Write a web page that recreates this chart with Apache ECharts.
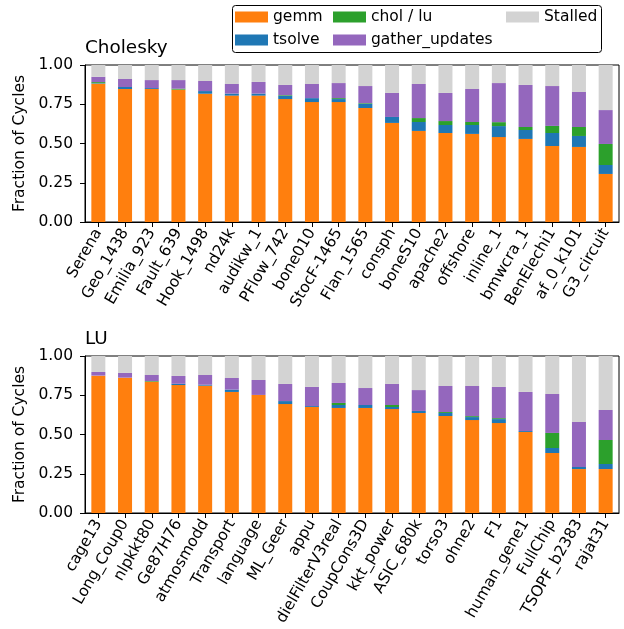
<!DOCTYPE html>
<html>
<head>
<meta charset="utf-8">
<script src="https://cdn.jsdelivr.net/npm/echarts@6/dist/echarts.min.js"></script>
<style>html,body{margin:0;padding:0;background:#fff;}#c{width:624px;height:629px;}</style>
</head>
<body>
<div id="c"></div>
<script>
const cholCategories = ['Serena','Geo_1438','Emilia_923','Fault_639','Hook_1498','nd24k','audikw_1','PFlow_742','bone010','StocF-1465','Flan_1565','consph','boneS10','apache2','offshore','inline_1','bmwcra_1','BenElechi1','af_0_k101','G3_circuit'];
const cholGemm    = [0.881,0.847,0.847,0.843,0.817,0.805,0.805,0.783,0.764,0.764,0.726,0.631,0.580,0.567,0.561,0.541,0.529,0.484,0.478,0.306];
const cholTsolve  = [0.003,0.013,0.006,0.000,0.017,0.013,0.013,0.021,0.025,0.019,0.027,0.038,0.057,0.051,0.057,0.070,0.057,0.083,0.070,0.057];
const cholCholLu  = [0.007,0.000,0.000,0.006,0.000,0.000,0.000,0.004,0.000,0.006,0.004,0.000,0.025,0.025,0.019,0.025,0.019,0.045,0.057,0.134];
const cholGather  = [0.034,0.051,0.051,0.055,0.064,0.061,0.074,0.065,0.090,0.096,0.109,0.153,0.217,0.179,0.210,0.249,0.268,0.254,0.223,0.216];
const cholStalled = [0.075,0.089,0.096,0.096,0.102,0.121,0.108,0.127,0.121,0.115,0.134,0.178,0.121,0.178,0.153,0.115,0.127,0.134,0.172,0.287];

const luCategories = ['cage13','Long_Coup0','nlpkkt80','Ge87H76','atmosmodd','Transport','language','ML_Geer','appu','dielFilterV3real','CoupCons3D','kkt_power','ASIC_680k','torso3','ohne2','F1','human_gene1','FullChip','TSOPF_b2383','rajat31'];
const luGemm    = [0.875,0.862,0.836,0.815,0.811,0.771,0.752,0.694,0.675,0.669,0.669,0.662,0.637,0.618,0.592,0.573,0.516,0.382,0.280,0.280];
const luTsolve  = [0.000,0.000,0.000,0.008,0.006,0.015,0.000,0.019,0.006,0.019,0.019,0.013,0.013,0.019,0.019,0.025,0.006,0.032,0.013,0.032];
const luCholLu  = [0.000,0.000,0.004,0.000,0.000,0.000,0.000,0.000,0.000,0.013,0.000,0.013,0.000,0.006,0.006,0.006,0.000,0.096,0.000,0.153];
const luGather  = [0.023,0.030,0.039,0.050,0.062,0.074,0.095,0.109,0.122,0.127,0.108,0.134,0.133,0.166,0.192,0.199,0.249,0.248,0.287,0.191];
const luStalled = [0.102,0.108,0.121,0.127,0.121,0.140,0.153,0.178,0.197,0.172,0.204,0.178,0.217,0.191,0.191,0.197,0.229,0.242,0.420,0.344];

const yTicks = [0, 0.25, 0.5, 0.75, 1.0];

const FONT = 'DejaVu Sans';
const FS = 15.5;
const colors = {gemm:'#ff7f0e', tsolve:'#1f77b4', chol:'#2ca02c', gather:'#9467bd', stalled:'#d3d3d3'};

function xAxis(idx, cats){
  return {
    type:'category', gridIndex:idx, data:cats,
    axisLine:{show:true, lineStyle:{color:'#000', width:1}},
    axisTick:{show:true, alignWithLabel:true, length:5, lineStyle:{color:'#000'}},
    axisLabel:{interval:0, rotate:60, fontFamily:FONT, fontSize:FS, color:'#000', margin:8}
  };
}
function yAxis(idx){
  return {
    type:'value', gridIndex:idx, min:yTicks[0], max:yTicks[yTicks.length-1], interval:0.25,
    name:'Fraction of Cycles', nameLocation:'middle', nameGap:54, nameRotate:90,
    nameTextStyle:{fontFamily:FONT, fontSize:FS, color:'#000'},
    axisLine:{show:true, lineStyle:{color:'#000', width:1}},
    axisTick:{show:true, length:5, lineStyle:{color:'#000'}},
    splitLine:{show:false},
    axisLabel:{fontFamily:FONT, fontSize:FS, color:'#000', margin:12, formatter:v=>v.toFixed(2)}
  };
}
function ser(name, data, idx, color){
  return {name, type:'bar', data, xAxisIndex:idx, yAxisIndex:idx, stack:'s'+idx,
    barWidth:14, itemStyle:{color}, emphasis:{disabled:true}, animation:false};
}

const legendBase = {orient:'vertical', itemWidth:33, itemHeight:11, itemGap:5,
  textStyle:{fontFamily:FONT, fontSize:FS, color:'#000', lineHeight:18}, icon:'rect', selectedMode:false};

const option = {
  animation:false,
  title:[
    {text:'Cholesky', left:85, top:39, textStyle:{fontFamily:FONT, fontSize:18.4, fontWeight:'normal', color:'#000'}, padding:0},
    {text:'LU', left:85, top:330, textStyle:{fontFamily:FONT, fontSize:18.4, fontWeight:'normal', color:'#000'}, padding:0}
  ],
  legend:[
    Object.assign({}, legendBase, {left:235, top:8, padding:0, data:['gemm','tsolve']}),
    Object.assign({}, legendBase, {left:333, top:8, padding:0, data:['chol / lu','gather_updates']}),
    Object.assign({}, legendBase, {left:506, top:8, padding:0, data:['Stalled']})
  ],
  graphic:[{type:'rect', shape:{x:232.5, y:5.5, width:369, height:47, r:3}, style:{fill:'none', stroke:'#000', lineWidth:1}, z:100}],
  grid:[
    {left:85, top:65, width:534, height:157, show:true, borderColor:'#000', borderWidth:1, backgroundColor:'transparent'},
    {left:85, top:356, width:534, height:157, show:true, borderColor:'#000', borderWidth:1, backgroundColor:'transparent'}
  ],
  xAxis:[xAxis(0, cholCategories), xAxis(1, luCategories)],
  yAxis:[yAxis(0), yAxis(1)],
  series:[
    ser('gemm', cholGemm, 0, colors.gemm),
    ser('tsolve', cholTsolve, 0, colors.tsolve),
    ser('chol / lu', cholCholLu, 0, colors.chol),
    ser('gather_updates', cholGather, 0, colors.gather),
    ser('Stalled', cholStalled, 0, colors.stalled),
    ser('gemm', luGemm, 1, colors.gemm),
    ser('tsolve', luTsolve, 1, colors.tsolve),
    ser('chol / lu', luCholLu, 1, colors.chol),
    ser('gather_updates', luGather, 1, colors.gather),
    ser('Stalled', luStalled, 1, colors.stalled)
  ]
};
const chart = echarts.init(document.getElementById('c'), null, {renderer:'canvas'});
chart.setOption(option);
</script>
</body>
</html>
